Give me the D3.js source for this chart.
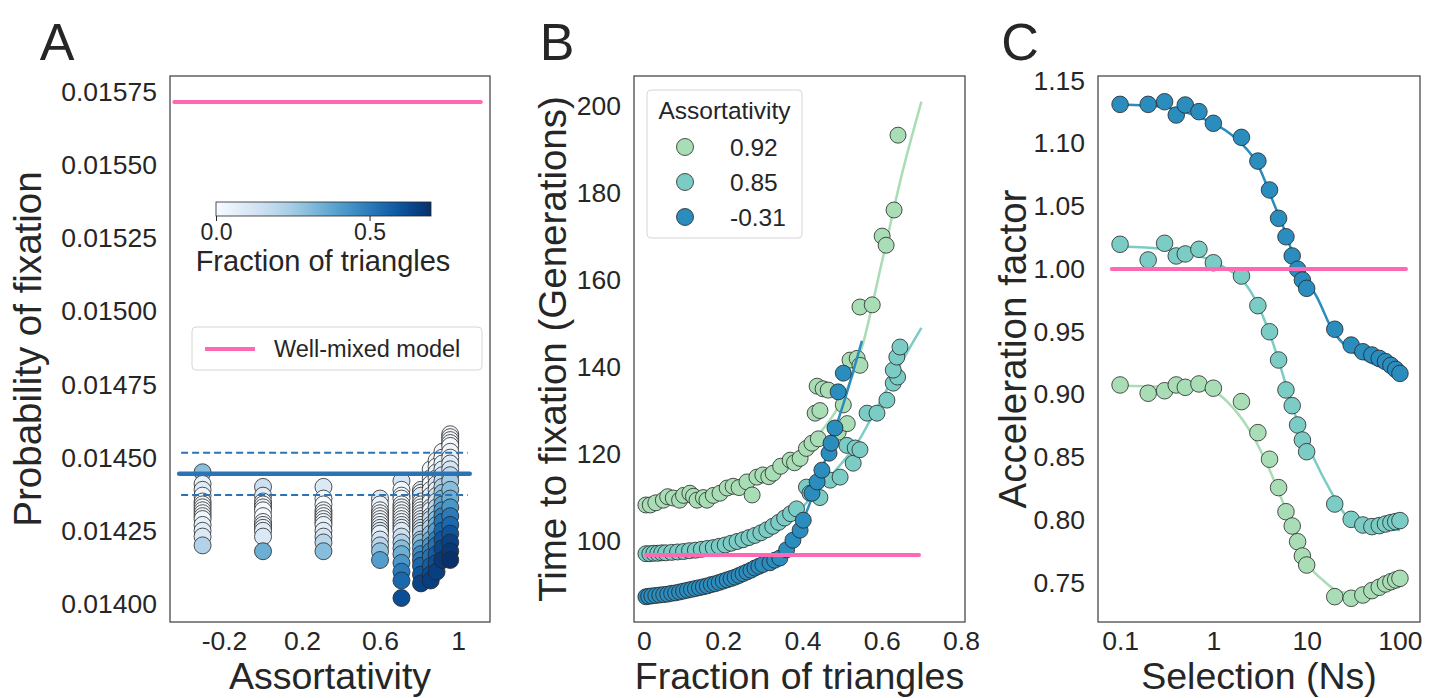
<!DOCTYPE html>
<html>
<head>
<meta charset="utf-8">
<script src="https://cdn.jsdelivr.net/npm/d3@7"></script>
<style>
  body { margin: 0; background: #fff; }
  svg { font-family: 'Liberation Sans', Arial, sans-serif; }
</style>
</head>
<body>
<svg id="chart" width="1434" height="698"></svg>
<script>
// ========= Panel A data ========= //
const assortLevels = [-0.31, 0.0, 0.31, 0.60, 0.71, 0.81, 0.86, 0.89, 0.92, 0.96];
const probA = [
  [0.01445, 0.01441, 0.01439, 0.01437, 0.01435, 0.01434, 0.01433, 0.01432, 0.01431, 0.01430, 0.01429, 0.01427, 0.01425, 0.01423, 0.01420],
  [0.01440, 0.01437, 0.01435, 0.01434, 0.01433, 0.01432, 0.01430, 0.01428, 0.01427, 0.01426, 0.01425, 0.01423, 0.01418],
  [0.01440, 0.01436, 0.01434, 0.01432, 0.01431, 0.01430, 0.01429, 0.01428, 0.01427, 0.01425, 0.01423, 0.01421, 0.01418],
  [0.01436, 0.01434, 0.01432, 0.01431, 0.01430, 0.01429, 0.01428, 0.01427, 0.01426, 0.01425, 0.01424, 0.01422, 0.01420, 0.01418, 0.01415],
  [0.01442, 0.01439, 0.01437, 0.01436, 0.01434, 0.01433, 0.01432, 0.01431, 0.01430, 0.01429, 0.01428, 0.01427, 0.01426, 0.01425, 0.01423, 0.01421, 0.01419, 0.01417, 0.01414, 0.01411, 0.01408, 0.01402],
  [0.01439, 0.01438, 0.01437, 0.01435, 0.01434, 0.01433, 0.01432, 0.01431, 0.01430, 0.01429, 0.01428, 0.01427, 0.01426, 0.01425, 0.01424, 0.01422, 0.01421, 0.01419, 0.01417, 0.01415, 0.01413, 0.01410, 0.01407],
  [0.01446, 0.01443, 0.01441, 0.01439, 0.01437, 0.01435, 0.01433, 0.01432, 0.01430, 0.01429, 0.01427, 0.01426, 0.01424, 0.01422, 0.01420, 0.01418, 0.01416, 0.01413, 0.01410, 0.01408],
  [0.01449, 0.01447, 0.01445, 0.01443, 0.01441, 0.01439, 0.01437, 0.01435, 0.01433, 0.01431, 0.01429, 0.01427, 0.01425, 0.01422, 0.01420, 0.01417, 0.01414, 0.01411],
  [0.01452, 0.01450, 0.01448, 0.01446, 0.01444, 0.01442, 0.01440, 0.01438, 0.01436, 0.01434, 0.01432, 0.01430, 0.01428, 0.01425, 0.01422, 0.01419, 0.01415],
  [0.01458, 0.01457, 0.01456, 0.01455, 0.01454, 0.01452, 0.01450, 0.01448, 0.01446, 0.01444, 0.01442, 0.01439, 0.01436, 0.01433, 0.01430, 0.01427, 0.01424, 0.01421, 0.01418, 0.01415]
];
const fracA = [
  [0.30, 0.05, 0.08, 0.02, 0.01, 0.03, 0.00, 0.02, 0.00, 0.05, 0.02, 0.06, 0.08, 0.10, 0.22],
  [0.15, 0.08, 0.02, 0.00, 0.03, 0.01, 0.00, 0.02, 0.05, 0.03, 0.08, 0.10, 0.35],
  [0.10, 0.02, 0.00, 0.03, 0.00, 0.02, 0.04, 0.01, 0.05, 0.08, 0.12, 0.20, 0.30],
  [0.10, 0.05, 0.00, 0.02, 0.01, 0.04, 0.00, 0.03, 0.06, 0.10, 0.05, 0.12, 0.20, 0.28, 0.40],
  [0.12, 0.03, 0.00, 0.02, 0.00, 0.05, 0.01, 0.03, 0.00, 0.04, 0.02, 0.07, 0.05, 0.10, 0.15, 0.22, 0.30, 0.35, 0.42, 0.50, 0.55, 0.62],
  [0.08, 0.03, 0.10, 0.00, 0.04, 0.02, 0.00, 0.06, 0.03, 0.08, 0.05, 0.10, 0.14, 0.12, 0.20, 0.25, 0.30, 0.38, 0.45, 0.50, 0.55, 0.60, 0.65],
  [0.02, 0.05, 0.00, 0.03, 0.08, 0.04, 0.10, 0.06, 0.12, 0.18, 0.15, 0.22, 0.28, 0.35, 0.42, 0.48, 0.52, 0.58, 0.62, 0.66],
  [0.03, 0.00, 0.05, 0.02, 0.10, 0.06, 0.15, 0.12, 0.20, 0.25, 0.30, 0.35, 0.40, 0.48, 0.52, 0.58, 0.62, 0.66],
  [0.02, 0.00, 0.04, 0.08, 0.12, 0.18, 0.22, 0.28, 0.32, 0.38, 0.42, 0.48, 0.52, 0.56, 0.60, 0.64, 0.68],
  [0.00, 0.01, 0.00, 0.02, 0.00, 0.03, 0.05, 0.08, 0.12, 0.18, 0.25, 0.30, 0.35, 0.42, 0.50, 0.55, 0.60, 0.65, 0.68, 0.70]
];
const wellMixedA = 0.015716;
const meanA = 0.014445;
const meanBandA = [0.014372, 0.014517];
const xTicksA = [-0.2, 0.2, 0.6, 1];
const yTicksA = [0.0140, 0.01425, 0.0145, 0.01475, 0.0150, 0.01525, 0.0155, 0.01575];
const cbarTicks = [0, 0.5];

// ========= Panel B data ========= //
const seriesNamesB = ['0.92', '0.85', '-0.31'];
const greenB = [[0.005,108.3],[0.016,108.3],[0.03,108.8],[0.049,109.4],[0.06,110.2],[0.074,109.9],[0.09,109.4],[0.10,110.5],[0.116,111],[0.125,110.3],[0.134,109.4],[0.15,110],[0.159,109.4],[0.175,110.5],[0.192,111],[0.21,112.2],[0.225,112.6],[0.24,112.3],[0.26,113.6],[0.273,110.6],[0.285,114.7],[0.30,115.2],[0.315,114.8],[0.326,115.6],[0.345,117.2],[0.369,118.6],[0.38,118],[0.394,119],[0.41,121.3],[0.424,122.5],[0.44,123.5],[0.49,125],[0.513,127],[0.432,129.4],[0.444,130],[0.503,131.3],[0.437,135.6],[0.452,135],[0.465,134.7],[0.52,141.6],[0.538,142],[0.545,140.4],[0.545,153.8],[0.576,154.3],[0.601,170.1],[0.611,168],[0.631,176.1],[0.641,193.3]];
const tealB = [[0.005,97.1],[0.015,97.1],[0.025,97.2],[0.035,97.2],[0.045,97.3],[0.055,97.3],[0.07,97.4],[0.085,97.5],[0.1,97.6],[0.115,97.8],[0.13,97.9],[0.145,98.1],[0.16,98.3],[0.175,98.5],[0.19,98.8],[0.205,99.1],[0.22,99.5],[0.235,99.9],[0.25,100.3],[0.265,100.8],[0.28,101.3],[0.295,101.9],[0.31,102.6],[0.325,103.4],[0.34,104.3],[0.355,105.3],[0.37,106.3],[0.385,107.4],[0.41,112.4],[0.419,111],[0.444,110],[0.47,114],[0.495,114.7],[0.512,122],[0.528,117.9],[0.533,121.4],[0.545,121],[0.563,129.4],[0.588,129.4],[0.613,132.4],[0.629,136.3],[0.64,137.7],[0.629,139.3],[0.638,142.3],[0.646,144.6]];
const blueB = [[0.005,87.2],[0.012,87.3],[0.02,87.4],[0.03,87.5],[0.04,87.6],[0.05,87.7],[0.06,87.8],[0.07,88],[0.08,88.1],[0.09,88.3],[0.1,88.5],[0.11,88.7],[0.12,88.9],[0.13,89.1],[0.14,89.3],[0.15,89.5],[0.16,89.7],[0.17,90],[0.18,90.2],[0.19,90.5],[0.2,90.8],[0.21,91.1],[0.22,91.4],[0.23,91.7],[0.24,92.1],[0.25,92.5],[0.26,92.9],[0.27,93.3],[0.28,93.8],[0.29,94.2],[0.30,94.6],[0.318,95],[0.33,95.6],[0.343,96.1],[0.36,98],[0.376,100.2],[0.394,102.5],[0.402,104.8],[0.424,111],[0.437,113.6],[0.449,116.3],[0.467,120.2],[0.472,122.5],[0.482,126],[0.49,134.3],[0.503,138.6]];
const greenFitB = [[0,107.8],[0.1,109.3],[0.2,111.5],[0.3,115],[0.4,121],[0.45,125.5],[0.5,132.5],[0.55,144.5],[0.6,164],[0.65,184],[0.7,201]];
const tealFitB = [[0,96.8],[0.1,97.4],[0.2,98.8],[0.3,101.8],[0.386,106.4],[0.437,111.7],[0.5,118],[0.538,122.5],[0.571,127.8],[0.664,143.4],[0.7,149]];
const blueFitB = [[0,87.3],[0.1,88.4],[0.2,90.5],[0.3,94],[0.35,97],[0.4,104.5],[0.44,114],[0.48,125],[0.51,133.5],[0.55,146]];
const wellMixedB = 96.8;
const xTicksB = [0, 0.2, 0.4, 0.6, 0.8];
const yTicksB = [100, 120, 140, 160, 180, 200];

// ========= Panel C data ========= //
const nsC = [0.1, 0.2, 0.3, 0.4, 0.5, 0.7, 1, 2, 3, 4, 5, 6, 7, 8, 9, 10, 20, 30, 40, 50, 60, 70, 80, 90, 100];
const blueC = [1.1312, 1.1312, 1.1333, 1.1227, 1.1307, 1.1254, 1.1161, 1.1049, 1.086, 1.063, 1.0404, 1.0257, 1.0104, 0.9998, 0.9912, 0.9846, 0.952, 0.9394, 0.9341, 0.9315, 0.9288, 0.9262, 0.9232, 0.9200, 0.9168];
const tealC = [1.0197, 1.0072, 1.0205, 1.0104, 1.012, 1.0157, 1.005, 0.9944, 0.9708, 0.95, 0.9275, 0.9036, 0.8911, 0.8757, 0.8637, 0.8544, 0.8127, 0.8005, 0.796, 0.7947, 0.7955, 0.7968, 0.7979, 0.7987, 0.7995];
const greenC = [0.9076, 0.901, 0.903, 0.9076, 0.9057, 0.9084, 0.905, 0.8943, 0.8696, 0.8484, 0.8258, 0.8066, 0.7952, 0.7827, 0.7713, 0.7641, 0.7389, 0.7376, 0.7402, 0.7437, 0.7464, 0.749, 0.7508, 0.7522, 0.7535];
const blueFitC = [[0.1,1.131],[0.3,1.129],[0.6,1.123],[1,1.116],[1.5,1.108],[2,1.1],[3,1.083],[4.4,1.053],[6,1.028],[7.5,1.007],[10,0.991],[12.8,0.978],[19,0.951],[30,0.935],[50,0.925],[100,0.917]];
const tealFitC = [[0.1,1.018],[0.3,1.016],[0.6,1.012],[1,1.006],[1.4,1.0],[2,0.992],[2.7,0.978],[4.4,0.94],[5.2,0.923],[7.2,0.888],[11.8,0.85],[17.8,0.824],[26.8,0.803],[43.5,0.795],[100,0.792]];
const greenFitC = [[0.1,0.907],[0.3,0.906],[1,0.902],[1.6,0.89],[2.7,0.866],[4,0.84],[5.6,0.8135],[7,0.795],[8.5,0.78],[10,0.767],[15,0.752],[22,0.743],[35,0.741],[60,0.746],[100,0.754]];
const wellMixedC = 1.0;
const xTicksC = [0.1, 1, 10, 100];
const yTicksC = [0.75, 0.80, 0.85, 0.90, 0.95, 1.00, 1.05, 1.10, 1.15];

// ========= Style constants ========= //
const pink = '#ff69b4';
const seriesColors = ['#a8ddb5', '#7bccc4', '#2b8cbe'];
const ink = '#262626';
const plotTop = 76, plotBottom = 622;
const plain = d => String(d);   // keeps an ascii hyphen for negatives

const svg = d3.select('#chart');

function frame(x0, x1) {
  svg.append('rect')
    .attr('x', x0).attr('y', plotTop)
    .attr('width', x1 - x0).attr('height', plotBottom - plotTop)
    .attr('fill', 'none')
    .attr('stroke', '#4a4a4a')
    .attr('stroke-width', 1.3);
}

function axes(x, y, xTicks, yTicks, xFmt, yFmt) {
  const gx = svg.append('g')
    .attr('transform', `translate(0,${plotBottom})`)
    .call(d3.axisBottom(x).tickValues(xTicks).tickSize(0).tickPadding(9).tickFormat(xFmt));
  const gy = svg.append('g')
    .attr('transform', `translate(${x.range()[0]},0)`)
    .call(d3.axisLeft(y).tickValues(yTicks).tickSize(0).tickPadding(13).tickFormat(yFmt));
  [gx, gy].forEach(g => {
    g.select('.domain').remove();
    g.selectAll('text')
      .attr('font-family', "'Liberation Sans', Arial, sans-serif")
      .attr('font-size', 26.5)
      .attr('fill', ink);
  });
}

function labels(x0, x1, cx, xLabel, yLabel, letter, letterX) {
  svg.append('text')
    .attr('x', (x0 + x1) / 2).attr('y', 689)
    .attr('text-anchor', 'middle')
    .attr('font-size', 37.5).attr('fill', ink)
    .text(xLabel);
  svg.append('text')
    .attr('transform', `translate(${cx},${(plotTop + plotBottom) / 2}) rotate(-90)`)
    .attr('text-anchor', 'middle')
    .attr('dy', '0.35em')
    .attr('font-size', 38.5).attr('fill', ink)
    .text(yLabel);
  svg.append('text')
    .attr('x', letterX).attr('y', 60)
    .attr('text-anchor', 'middle')
    .attr('font-size', 52).attr('fill', ink)
    .text(letter);
}

// ========= Panel A ========= //
const xA = d3.scaleLinear().domain([-0.477, 1.164]).range([170, 490]);
const yA = d3.scaleLinear().domain([0.013938, 0.015805]).range([plotBottom, plotTop]);
const colorA = d3.scaleSequential(d3.interpolateBlues).domain([0, 0.7]);

const pointsA = assortLevels.flatMap((a, i) =>
  probA[i].map((p, j) => ({ a: a, p: p, f: fracA[i][j] })));

svg.append('g')
  .selectAll('circle')
  .data(pointsA)
  .join('circle')
    .attr('cx', d => xA(d.a))
    .attr('cy', d => yA(d.p))
    .attr('r', 8.5)
    .attr('fill', d => colorA(d.f))
    .attr('stroke', ink)
    .attr('stroke-width', 0.8);

svg.append('line')
  .attr('x1', xA(-0.43)).attr('x2', xA(1.06))
  .attr('y1', yA(meanA)).attr('y2', yA(meanA))
  .attr('stroke', '#2a74b6').attr('stroke-width', 4.5)
  .attr('stroke-linecap', 'round');

svg.append('g')
  .selectAll('line')
  .data(meanBandA)
  .join('line')
    .attr('x1', xA(-0.42)).attr('x2', xA(1.05))
    .attr('y1', d => yA(d)).attr('y2', d => yA(d))
    .attr('stroke', '#2a74b6').attr('stroke-width', 2)
    .attr('stroke-dasharray', '7,4');

svg.append('line')
  .attr('x1', xA(-0.455)).attr('x2', xA(1.117))
  .attr('y1', yA(wellMixedA)).attr('y2', yA(wellMixedA))
  .attr('stroke', pink).attr('stroke-width', 4)
  .attr('stroke-linecap', 'round');

frame(170, 490);
axes(xA, yA, xTicksA, yTicksA, plain, d3.format('.5f'));
labels(170, 490, 28, 'Assortativity', 'Probability of fixation', 'A', 57);

// colorbar
const cbX = d3.scaleLinear().domain([0, 0.7]).range([216, 431]);
const grad = svg.append('defs').append('linearGradient').attr('id', 'blues');
d3.range(0, 1.0001, 0.05).forEach(t => {
  grad.append('stop').attr('offset', t).attr('stop-color', d3.interpolateBlues(t));
});
svg.append('rect')
  .attr('x', 216).attr('y', 202).attr('width', 215).attr('height', 14)
  .attr('fill', 'url(#blues)')
  .attr('stroke', ink).attr('stroke-width', 0.8);
const cbAxis = svg.append('g')
  .attr('transform', 'translate(0,216)')
  .call(d3.axisBottom(cbX).tickValues(cbarTicks).tickSize(5).tickPadding(3).tickFormat(d3.format('.1f')));
cbAxis.select('.domain').remove();
cbAxis.selectAll('line').attr('stroke', ink);
cbAxis.selectAll('text')
  .attr('font-family', "'Liberation Sans', Arial, sans-serif")
  .attr('font-size', 23).attr('fill', ink);
svg.append('text')
  .attr('x', 323).attr('y', 271)
  .attr('text-anchor', 'middle')
  .attr('font-size', 29).attr('fill', ink)
  .text('Fraction of triangles');

// legend A
svg.append('rect')
  .attr('x', 192).attr('y', 327).attr('width', 290).attr('height', 43)
  .attr('rx', 4)
  .attr('fill', '#fff').attr('fill-opacity', 0.85)
  .attr('stroke', '#d6d6d6');
svg.append('line')
  .attr('x1', 205).attr('x2', 255).attr('y1', 349).attr('y2', 349)
  .attr('stroke', pink).attr('stroke-width', 4);
svg.append('text')
  .attr('x', 274).attr('y', 357)
  .attr('font-size', 23.5).attr('fill', ink)
  .text('Well-mixed model');

// ========= Panel B ========= //
const xB = d3.scaleLinear().domain([-0.025, 0.81]).range([634, 965]);
const yB = d3.scaleLinear().domain([81.4, 206.9]).range([plotBottom, plotTop]);
const lineB = d3.line().x(d => xB(d[0])).y(d => yB(d[1])).curve(d3.curveMonotoneX);

const seriesB = [greenB, tealB, blueB];
const fitsB = [greenFitB, tealFitB, blueFitB];

seriesB.forEach((pts, i) => {
  svg.append('path')
    .attr('d', lineB(fitsB[i]))
    .attr('fill', 'none')
    .attr('stroke', seriesColors[i])
    .attr('stroke-width', 2.5);
  svg.append('g')
    .selectAll('circle')
    .data(pts)
    .join('circle')
      .attr('cx', d => xB(d[0]))
      .attr('cy', d => yB(d[1]))
      .attr('r', 8)
      .attr('fill', seriesColors[i])
      .attr('stroke', ink)
      .attr('stroke-width', 0.8);
});

svg.append('line')
  .attr('x1', xB(0.005)).attr('x2', xB(0.694))
  .attr('y1', yB(wellMixedB)).attr('y2', yB(wellMixedB))
  .attr('stroke', pink).attr('stroke-width', 4)
  .attr('stroke-linecap', 'round');

frame(634, 965);
axes(xB, yB, xTicksB, yTicksB, plain, d3.format('d'));
labels(634, 965, 553, 'Fraction of triangles', 'Time to fixation (Generations)', 'B', 557);

// legend B
svg.append('rect')
  .attr('x', 647).attr('y', 90).attr('width', 155).attr('height', 148)
  .attr('rx', 4)
  .attr('fill', '#fff').attr('fill-opacity', 0.85)
  .attr('stroke', '#d6d6d6');
svg.append('text')
  .attr('x', 724.5).attr('y', 119)
  .attr('text-anchor', 'middle')
  .attr('font-size', 24.5).attr('fill', ink)
  .text('Assortativity');
const legB = svg.append('g')
  .selectAll('g')
  .data(seriesNamesB)
  .join('g')
    .attr('transform', (d, i) => `translate(685,${147 + i * 35})`);
legB.append('circle')
  .attr('r', 8.5)
  .attr('fill', (d, i) => seriesColors[i])
  .attr('stroke', ink).attr('stroke-width', 0.8);
legB.append('text')
  .attr('x', 45).attr('dy', '0.35em')
  .attr('font-size', 24.5).attr('fill', ink)
  .text(d => d);

// ========= Panel C ========= //
const xC = d3.scaleLog().domain([0.058, 164]).range([1098, 1420]);
const yC = d3.scaleLinear().domain([0.7187, 1.1538]).range([plotBottom, plotTop]);
const lineC = d3.line().x(d => xC(d[0])).y(d => yC(d[1])).curve(d3.curveMonotoneX);

const seriesC = [greenC, tealC, blueC];
const fitsC = [greenFitC, tealFitC, blueFitC];

seriesC.forEach((vals, i) => {
  svg.append('path')
    .attr('d', lineC(fitsC[i]))
    .attr('fill', 'none')
    .attr('stroke', seriesColors[i])
    .attr('stroke-width', 2.5);
  svg.append('g')
    .selectAll('circle')
    .data(vals)
    .join('circle')
      .attr('cx', (d, j) => xC(nsC[j]))
      .attr('cy', d => yC(d))
      .attr('r', 8.3)
      .attr('fill', seriesColors[i])
      .attr('stroke', ink)
      .attr('stroke-width', 0.8);
});

svg.append('line')
  .attr('x1', xC(0.0815)).attr('x2', xC(116))
  .attr('y1', yC(wellMixedC)).attr('y2', yC(wellMixedC))
  .attr('stroke', pink).attr('stroke-width', 4)
  .attr('stroke-linecap', 'round');

frame(1098, 1420);
axes(xC, yC, xTicksC, yTicksC, plain, d3.format('.2f'));
labels(1098, 1420, 1013, 'Selection (Ns)', 'Acceleration factor', 'C', 1020);
</script>
</body>
</html>
